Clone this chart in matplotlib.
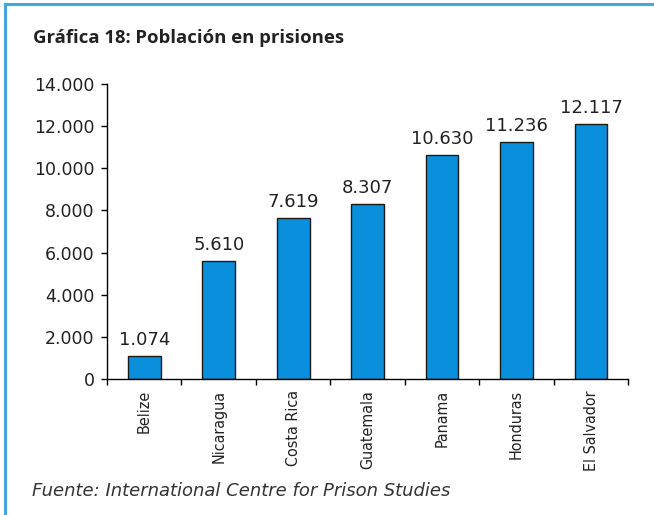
import matplotlib.pyplot as plt
from matplotlib.lines import Line2D

# datos
paises = ['Belize', 'Nicaragua', 'Costa Rica', 'Guatemala', 'Panama', 'Honduras', 'El Salvador']
poblacion = [1074, 5610, 7619, 8307, 10630, 11236, 12117]
yticks = [0, 2000, 4000, 6000, 8000, 10000, 12000, 14000]

def miles(v):
    return f'{v:,}'.replace(',', '.')

fig = plt.figure(figsize=(6.54, 5.15), dpi=100)
ax = fig.add_axes([0.1636, 0.2641, 0.797, 0.5728])

x = range(len(paises))
ax.bar(x, poblacion, width=0.44, color='#0a8fdc', edgecolor='#1a1a1a', linewidth=1.0)

for i, v in enumerate(poblacion):
    ax.text(i, v + 330, miles(v), ha='center', va='bottom', fontsize=13,
            color='#222222', family='DejaVu Sans')

ax.set_xlim(-0.5, len(paises) - 0.5)
ax.set_ylim(0, 14000)
ax.set_yticks(yticks)
ax.set_yticklabels([miles(t) for t in yticks], family='DejaVu Sans', fontsize=12.5, color='#222222')

# ticks del eje x en los limites entre categorias
ax.set_xticks([i - 0.5 for i in range(len(paises) + 1)])
ax.set_xticklabels([])
ax.set_xticks(list(x), minor=True)
ax.set_xticklabels(paises, minor=True, rotation=90, fontsize=11.5, fontstretch='condensed',
                   family='DejaVu Sans', color='#222222')
ax.tick_params(axis='x', which='minor', length=0, pad=8)
ax.tick_params(axis='x', which='major', length=4, direction='out', width=1)
ax.tick_params(axis='y', length=4, width=1, pad=5)

for s in ['top', 'right']:
    ax.spines[s].set_visible(False)
for s in ['left', 'bottom']:
    ax.spines[s].set_linewidth(1)

fig.text(0.051, 0.926, 'Gráfica 18: Población en prisiones', fontsize=13.3, fontweight='bold',
         family='Open Sans', color='#222222', va='center')
fig.text(0.049, 0.046, 'Fuente: International Centre for Prison Studies', fontsize=13,
         style='italic', family='DejaVu Sans', color='#333333', va='center')

# marco azul
fig.add_artist(Line2D([0.008, 0.008], [0.0, 0.992], color='#45a6d6', linewidth=2.2,
                      transform=fig.transFigure))
fig.add_artist(Line2D([0.008, 0.999], [0.992, 0.992], color='#45a6d6', linewidth=2.2,
                      transform=fig.transFigure))

fig.savefig('out.png', dpi=100)
